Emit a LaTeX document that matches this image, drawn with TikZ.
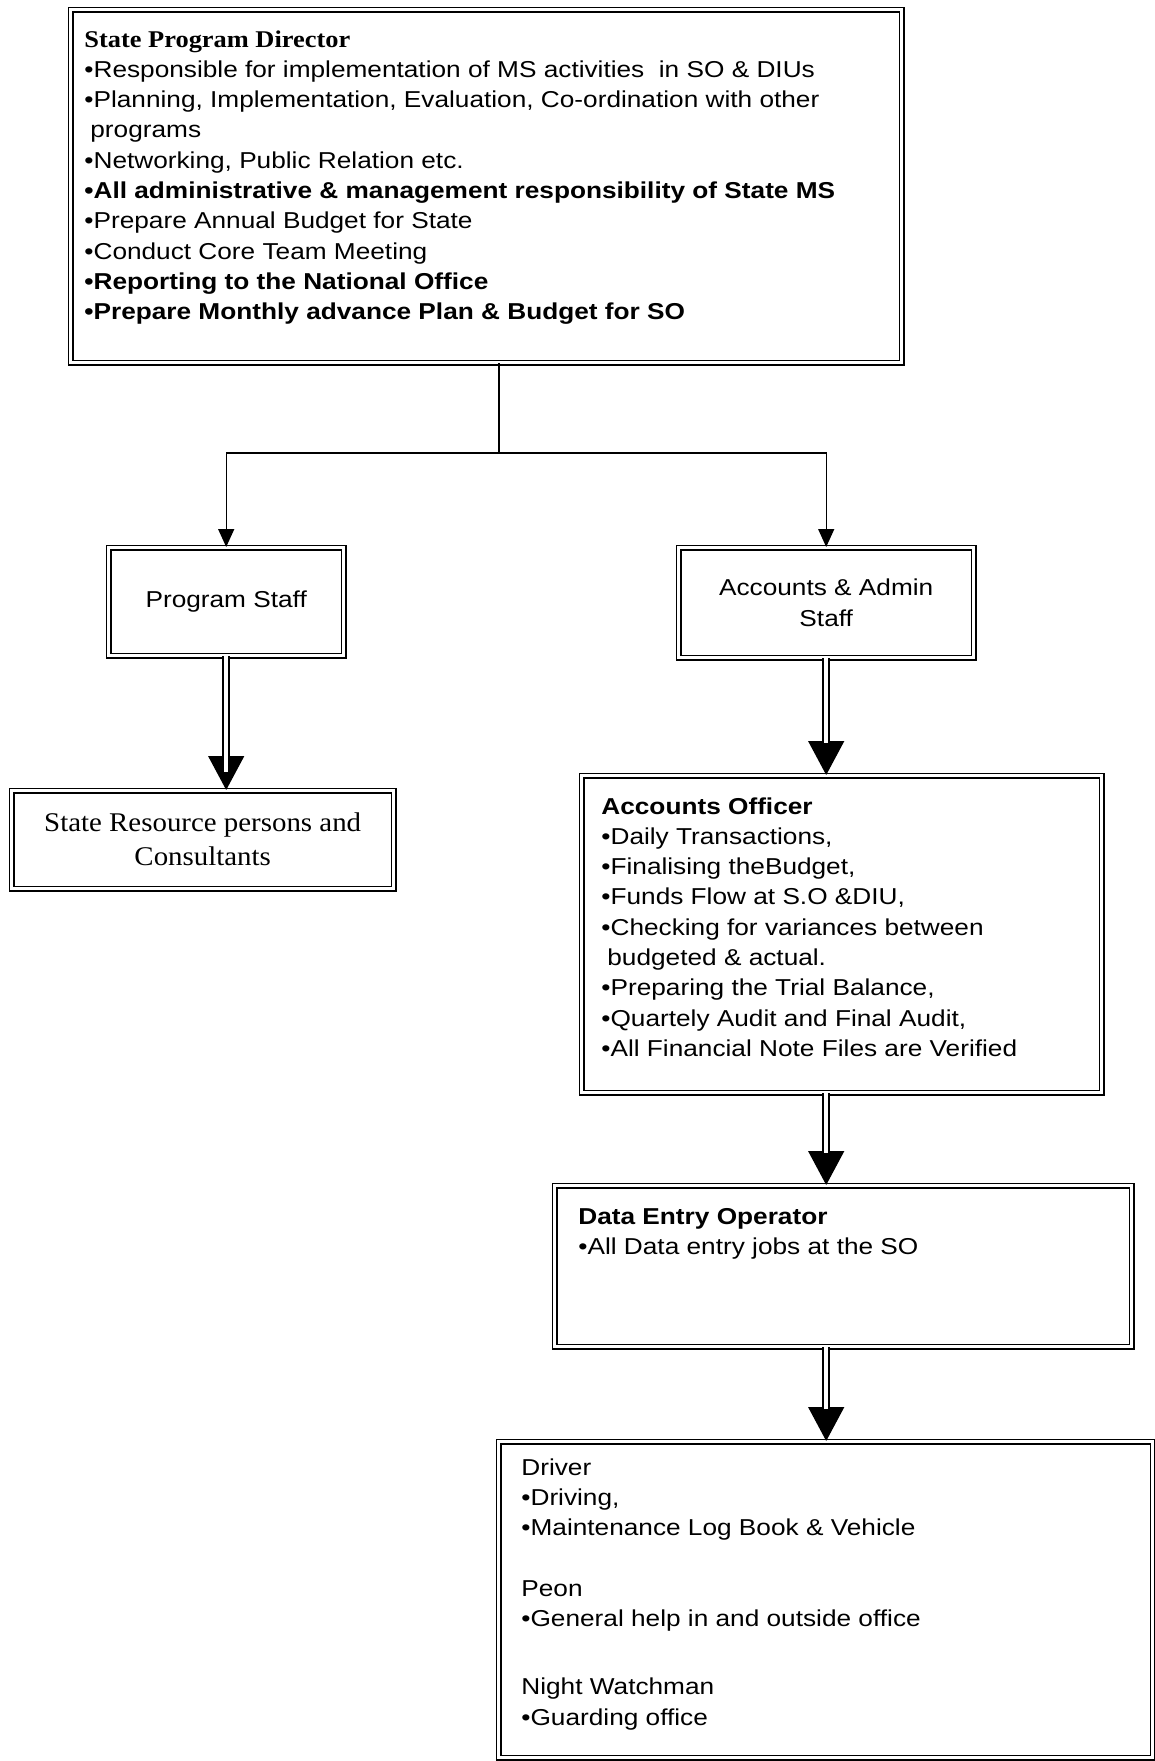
\documentclass[tikz,border=0pt]{standalone}
\usepackage{fontspec}
\setmainfont{Liberation Sans}[FakeStretch=1.14]
\newfontfamily\titleserif{Liberation Serif}[FakeStretch=1.1]
\newfontfamily\plainserif{Liberation Serif}[FakeStretch=1.07]
\usetikzlibrary{arrows.meta}

\tikzset{
  frame/.style={draw, double, line width=0.7pt, double distance=1.4pt,
                inner sep=0pt, anchor=north west},
  body/.style={inner sep=0pt, anchor=north west, align=left,
               font=\fontsize{11.5}{15.15}\selectfont},
  label/.style={font=\fontsize{11.5}{15.15}\selectfont, align=center},
  link/.style={line width=0.7pt},
  conn/.style={line width=0.7pt, -{Triangle[width=8pt,length=9pt]}},
  bigtip/.style={line width=0.7pt, -{Triangle[width=18pt,length=17pt]}},
  shaft/.style={double, line width=1pt, double distance=1.8pt},
}

\begin{document}
\begin{tikzpicture}[x=0.5pt,y=-0.5pt]
\useasboundingbox[fill=white] (0,0) rectangle (1155,1761);

% State Program Director
\node[frame, minimum width=415.5pt, minimum height=176.5pt] (spd) at (70,9) {};
\node[body] (spdtxt) at (84,30) {%
  {\titleserif\bfseries\fontsize{12}{15.15}\selectfont State Program Director}\\
  •Responsible for implementation of MS activities\ \ in SO \& DIUs\\
  •Planning, Implementation, Evaluation, Co-ordination with other\\
  \hspace*{3pt}programs\\
  •Networking, Public Relation etc.\\
  \textbf{•All administrative \& management responsibility of State MS}\\
  •Prepare Annual Budget for State\\
  •Conduct Core Team Meeting\\
  \textbf{•Reporting to the National Office}\\
  \textbf{•Prepare Monthly advance Plan \& Budget for SO}};

% second level
\node[frame, label, minimum width=117.5pt, minimum height=54pt] (ps) at (108,547) {Program Staff};
\node[frame, label, minimum width=147.5pt, minimum height=55pt] (aas) at (678,547) {Accounts \& Admin\\Staff};

% resource persons
\node[frame, align=center, minimum width=191pt, minimum height=49pt,
      font=\plainserif\fontsize{13.5}{17}\selectfont] (srp) at (11,790)
      {State Resource persons and\\Consultants};

% Accounts Officer
\node[frame, minimum width=260pt, minimum height=158.5pt] (ao) at (581,775) {};
\node[body] (aotxt) at (601,797) {%
  \textbf{Accounts Officer}\\
  •Daily Transactions,\\
  •Finalising theBudget,\\
  •Funds Flow at S.O \&DIU,\\
  •Checking for variances between\\
  \hspace*{3pt}budgeted \& actual.\\
  •Preparing the Trial Balance,\\
  •Quartely Audit and Final Audit,\\
  •All Financial Note Files are Verified};

% Data Entry Operator
\node[frame, minimum width=288.5pt, minimum height=80.5pt] (de) at (554,1185) {};
\node[body] (detxt) at (578,1208) {%
  \textbf{Data Entry Operator}\\
  •All Data entry jobs at the SO};

% support staff
\node[frame, minimum width=327pt, minimum height=158pt] (staff) at (498,1441) {};
\node[body] (stafftxt) at (521,1458) {%
  Driver\\
  •Driving,\\
  •Maintenance Log Book \& Vehicle\\[15.15pt]
  Peon\\
  •General help in and outside office\\[19pt]
  Night Watchman\\
  •Guarding office};

% connectors from the director
\coordinate (split) at (499,453);
\draw[link] (split |- spd.south) -- (split);
\draw[conn] (split) -| (ps.north);
\draw[conn] (split) -| (aas.north);

% double-shaft arrows
\draw[bigtip] (ps.south) -- (ps.south |- srp.north);
\draw[shaft, shorten >=9pt] (ps.south) -- (ps.south |- srp.north);

\draw[bigtip] (aas.south) -- (aas.south |- ao.north);
\draw[shaft, shorten >=16pt] (aas.south) -- (aas.south |- ao.north);

\draw[bigtip] (aas.south |- ao.south) -- (aas.south |- de.north);
\draw[shaft, shorten >=16pt] (aas.south |- ao.south) -- (aas.south |- de.north);

\draw[bigtip] (aas.south |- de.south) -- (aas.south |- staff.north);
\draw[shaft, shorten >=16pt] (aas.south |- de.south) -- (aas.south |- staff.north);
\end{tikzpicture}
\end{document}
